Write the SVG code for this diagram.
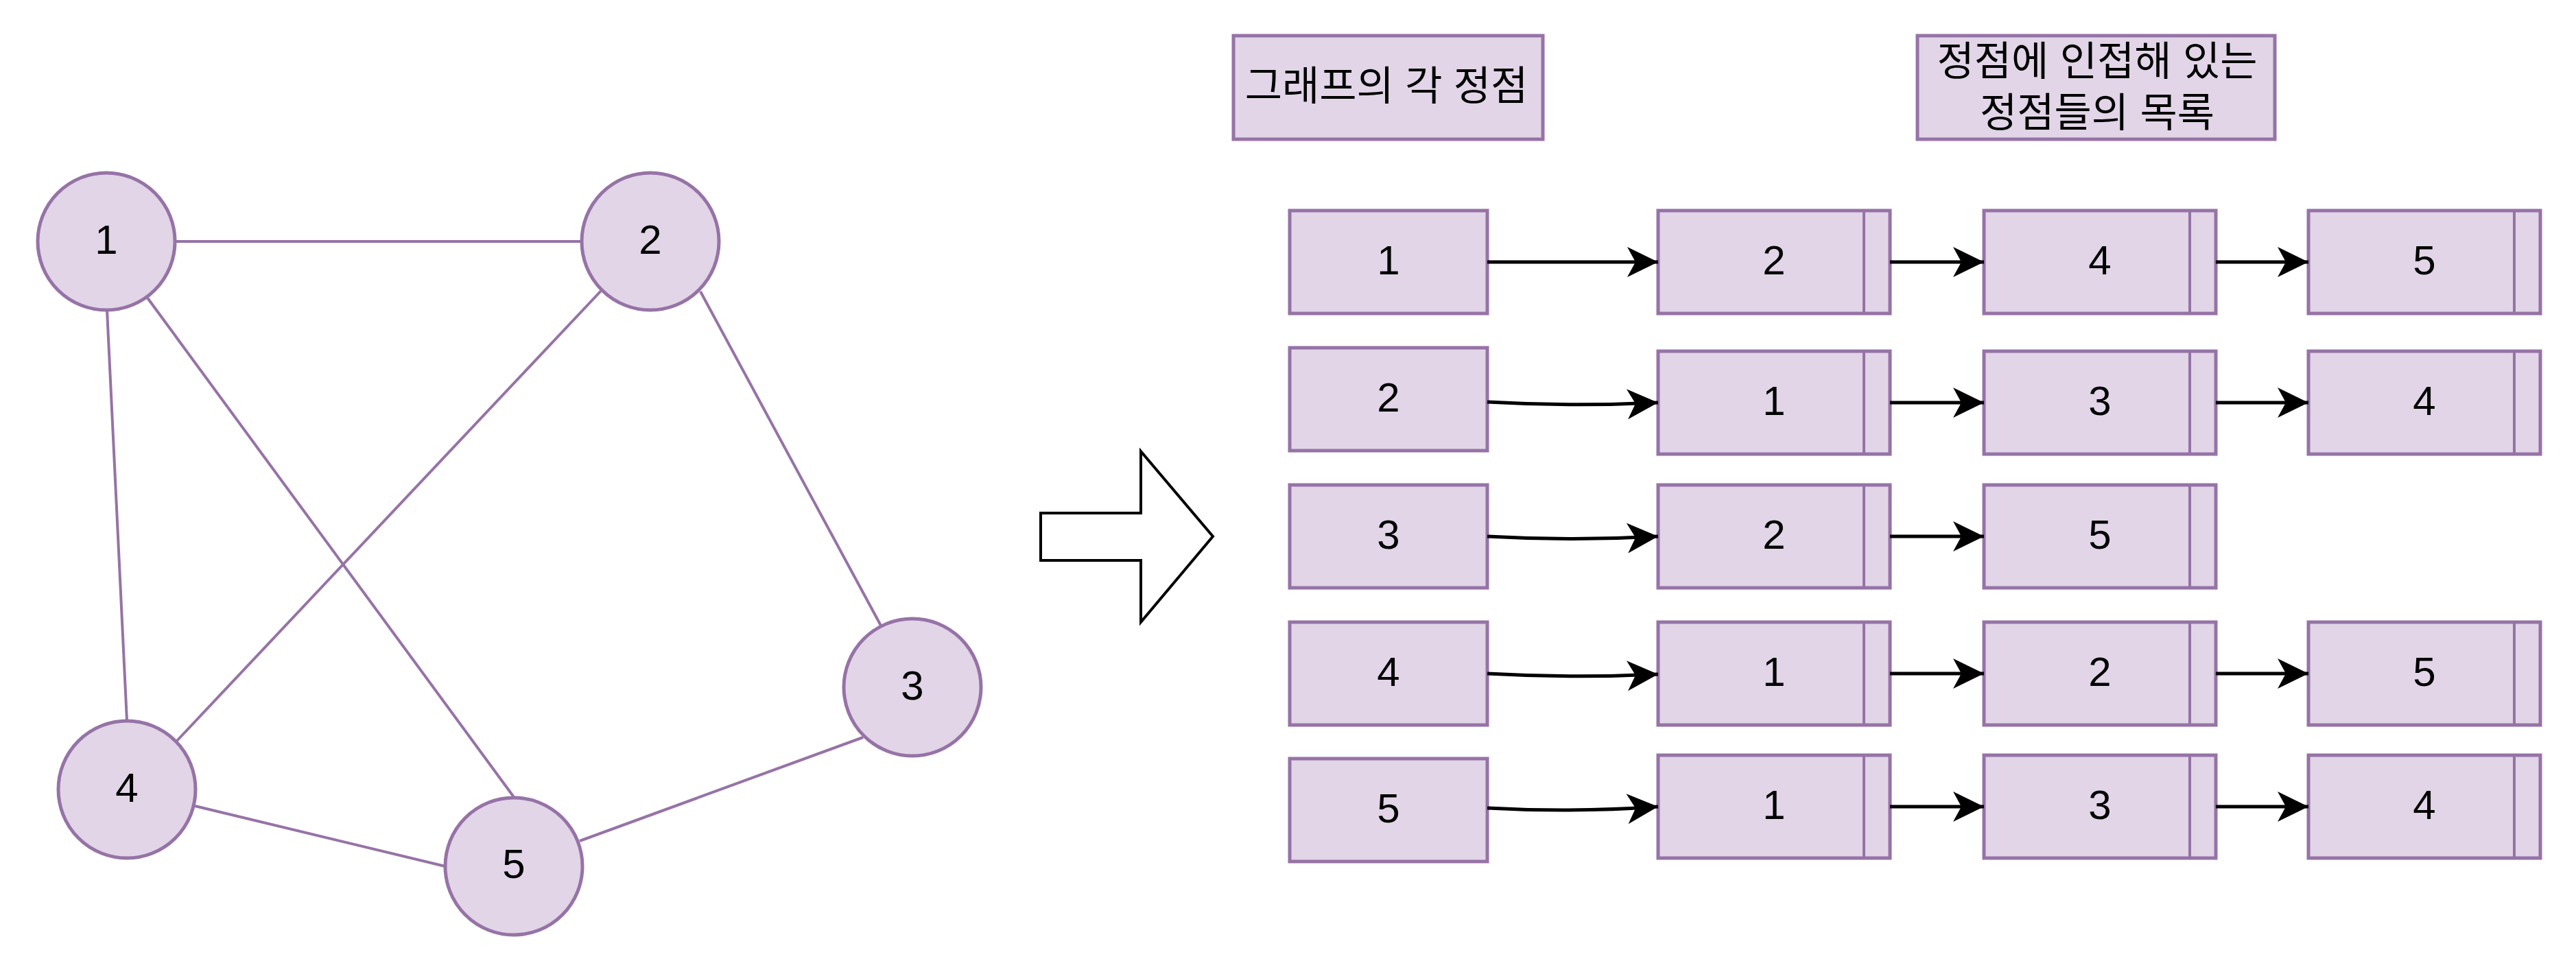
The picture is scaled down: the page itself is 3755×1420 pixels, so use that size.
<svg xmlns="http://www.w3.org/2000/svg" width="3755" height="1420" viewBox="0 0 3755 1420">
<style>
.c{fill:#e1d5e7;stroke:#9673a6;stroke-width:5}
.b{fill:#e1d5e7;stroke:#9673a6;stroke-width:5}
.dv{stroke:#9673a6;stroke-width:4;fill:none}
.e{stroke:#9673a6;stroke-width:4;fill:none}
.a{stroke:#000;stroke-width:5;fill:none;marker-end:url(#ah)}
.t{font-family:"Liberation Sans","Noto Sans CJK KR",sans-serif;font-size:60px;fill:#000;text-anchor:middle}
.k{font-family:"Liberation Sans","Noto Sans CJK KR",sans-serif;font-size:59px;fill:#000;text-anchor:middle}
</style>
<defs>
<marker id="ah" markerUnits="userSpaceOnUse" markerWidth="60" markerHeight="60" viewBox="-50 -30 60 60" refX="0" refY="0" orient="auto">
<path d="M0,0 L-45,-22 L-33,0 L-45,22 Z" fill="#000"/>
</marker>
</defs>
<rect width="3755" height="1420" fill="#fff"/>
<g id="edges">
<line class="e" x1="255" y1="352" x2="849" y2="352"/>
<line class="e" x1="156" y1="452" x2="185" y2="1051"/>
<line class="e" x1="214" y1="433" x2="749" y2="1162"/>
<line class="e" x1="877" y1="423" x2="256" y2="1082"/>
<line class="e" x1="1021" y1="425" x2="1284" y2="912"/>
<line class="e" x1="284" y1="1175" x2="649" y2="1263"/>
<line class="e" x1="845" y1="1226" x2="1258" y2="1075"/>
</g>
<g id="v1"><circle class="c" cx="155" cy="352" r="100"/><text class="t" x="155" y="370">1</text></g>
<g id="v2"><circle class="c" cx="948" cy="352" r="100"/><text class="t" x="948" y="370">2</text></g>
<g id="v3"><circle class="c" cx="1330" cy="1002" r="100"/><text class="t" x="1330" y="1020">3</text></g>
<g id="v4"><circle class="c" cx="185" cy="1151" r="100"/><text class="t" x="185" y="1169">4</text></g>
<g id="v5"><circle class="c" cx="749" cy="1263" r="100"/><text class="t" x="749" y="1280">5</text></g>
<g id="bigarrow"><path d="M1517,748 L1663,748 L1663,658 L1768,782 L1663,907 L1663,817 L1517,817 Z" fill="#fff" stroke="#000" stroke-width="4"/></g>
<g id="h1"><rect class="b" x="1798" y="52" width="451" height="151"/><text class="k" x="2021" y="146">그래프의 각 정점</text></g>
<g id="h2"><rect class="b" x="2795" y="52" width="521" height="151"/><text class="k" x="3057" y="110">정점에 인접해 있는</text><text class="k" x="3057" y="185">정점들의 목록</text></g>
<g id="r1">
<g id="r1-0"><rect class="b" x="1880" y="307" width="288" height="150"/><text class="t" x="2024" y="400">1</text></g>
<g id="r1-1"><rect class="b" x="2417" y="307" width="338" height="150"/><line class="dv" x1="2717" y1="307" x2="2717" y2="457"/><text class="t" x="2586" y="400">2</text></g>
<g id="r1-2"><rect class="b" x="2892" y="307" width="338" height="150"/><line class="dv" x1="3192" y1="307" x2="3192" y2="457"/><text class="t" x="3061" y="400">4</text></g>
<g id="r1-3"><rect class="b" x="3365" y="307" width="338" height="150"/><line class="dv" x1="3665" y1="307" x2="3665" y2="457"/><text class="t" x="3534" y="400">5</text></g>
</g>
<g id="r2">
<g id="r2-0"><rect class="b" x="1880" y="507" width="288" height="150"/><text class="t" x="2024" y="600">2</text></g>
<g id="r2-1"><rect class="b" x="2417" y="512" width="338" height="150"/><line class="dv" x1="2717" y1="512" x2="2717" y2="662"/><text class="t" x="2586" y="605">1</text></g>
<g id="r2-2"><rect class="b" x="2892" y="512" width="338" height="150"/><line class="dv" x1="3192" y1="512" x2="3192" y2="662"/><text class="t" x="3061" y="605">3</text></g>
<g id="r2-3"><rect class="b" x="3365" y="512" width="338" height="150"/><line class="dv" x1="3665" y1="512" x2="3665" y2="662"/><text class="t" x="3534" y="605">4</text></g>
</g>
<g id="r3">
<g id="r3-0"><rect class="b" x="1880" y="707" width="288" height="150"/><text class="t" x="2024" y="800">3</text></g>
<g id="r3-1"><rect class="b" x="2417" y="707" width="338" height="150"/><line class="dv" x1="2717" y1="707" x2="2717" y2="857"/><text class="t" x="2586" y="800">2</text></g>
<g id="r3-2"><rect class="b" x="2892" y="707" width="338" height="150"/><line class="dv" x1="3192" y1="707" x2="3192" y2="857"/><text class="t" x="3061" y="800">5</text></g>
</g>
<g id="r4">
<g id="r4-0"><rect class="b" x="1880" y="907" width="288" height="150"/><text class="t" x="2024" y="1000">4</text></g>
<g id="r4-1"><rect class="b" x="2417" y="907" width="338" height="150"/><line class="dv" x1="2717" y1="907" x2="2717" y2="1057"/><text class="t" x="2586" y="1000">1</text></g>
<g id="r4-2"><rect class="b" x="2892" y="907" width="338" height="150"/><line class="dv" x1="3192" y1="907" x2="3192" y2="1057"/><text class="t" x="3061" y="1000">2</text></g>
<g id="r4-3"><rect class="b" x="3365" y="907" width="338" height="150"/><line class="dv" x1="3665" y1="907" x2="3665" y2="1057"/><text class="t" x="3534" y="1000">5</text></g>
</g>
<g id="r5">
<g id="r5-0"><rect class="b" x="1880" y="1106" width="288" height="150"/><text class="t" x="2024" y="1199">5</text></g>
<g id="r5-1"><rect class="b" x="2417" y="1101" width="338" height="150"/><line class="dv" x1="2717" y1="1101" x2="2717" y2="1251"/><text class="t" x="2586" y="1194">1</text></g>
<g id="r5-2"><rect class="b" x="2892" y="1101" width="338" height="150"/><line class="dv" x1="3192" y1="1101" x2="3192" y2="1251"/><text class="t" x="3061" y="1194">3</text></g>
<g id="r5-3"><rect class="b" x="3365" y="1101" width="338" height="150"/><line class="dv" x1="3665" y1="1101" x2="3665" y2="1251"/><text class="t" x="3534" y="1194">4</text></g>
</g>
<g id="connectors">
<path class="a" d="M2168,382 L2417,382"/>
<path class="a" d="M2755,382 L2892,382"/>
<path class="a" d="M3230,382 L3365,382"/>
<path class="a" d="M2168,586 Q2292,593 2417,587"/>
<path class="a" d="M2755,587 L2892,587"/>
<path class="a" d="M3230,587 L3365,587"/>
<path class="a" d="M2168,782 Q2292,789 2417,782"/>
<path class="a" d="M2755,782 L2892,782"/>
<path class="a" d="M2168,982 Q2292,989 2417,983"/>
<path class="a" d="M2755,982 L2892,982"/>
<path class="a" d="M3230,982 L3365,982"/>
<path class="a" d="M2168,1178 Q2292,1185 2417,1176"/>
<path class="a" d="M2755,1176 L2892,1176"/>
<path class="a" d="M3230,1176 L3365,1176"/>
</g>
</svg>
